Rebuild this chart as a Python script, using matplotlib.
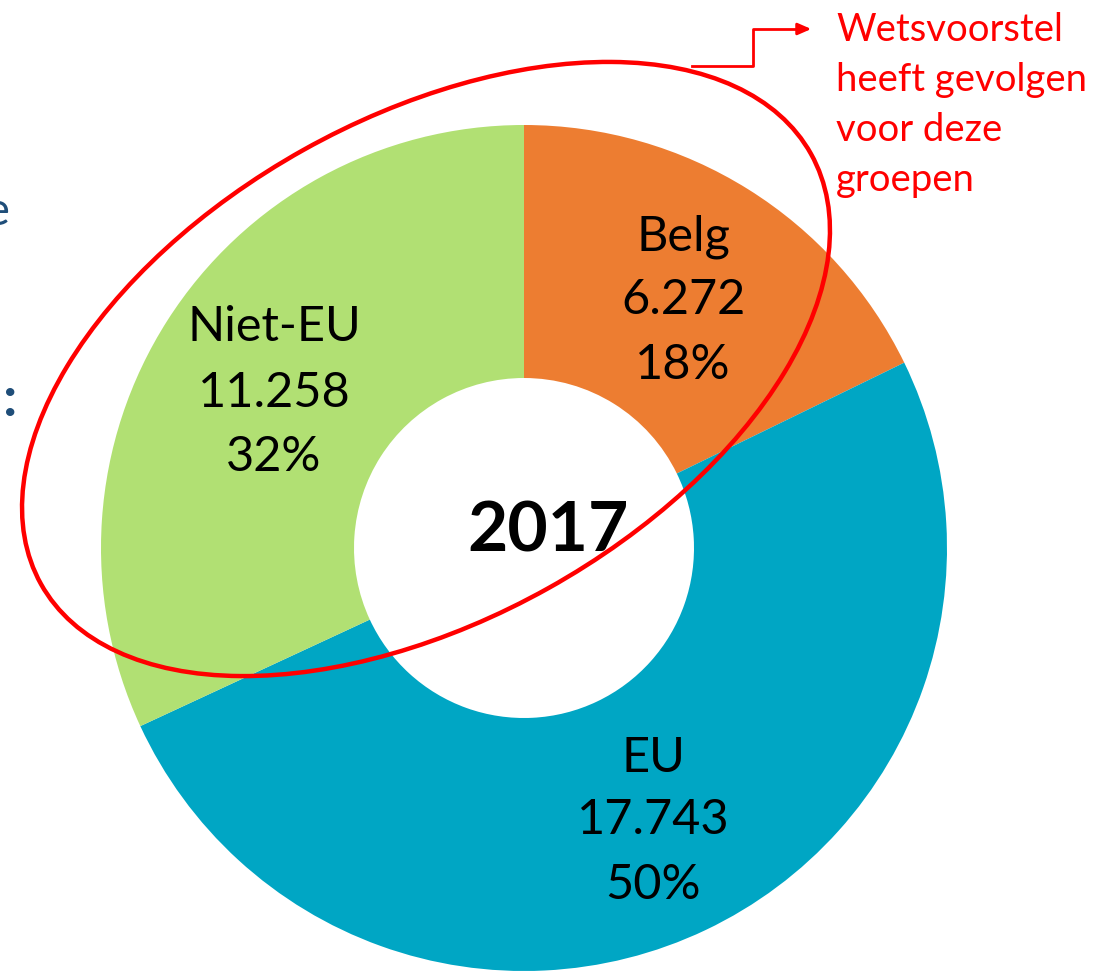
import matplotlib.pyplot as plt
from matplotlib.patches import Ellipse

plt.rcParams['font.family'] = ['Lato', 'DejaVu Sans']

# data
groups = ['Belg', 'EU', 'Niet-EU']
counts = [6272, 17743, 11258]
counts_txt = ['6.272', '17.743', '11.258']
pct_txt = ['18%', '50%', '32%']
colors = ['#ED7D31', '#00A6C4', '#B1E073']
note_lines = ['Wetsvoorstel', 'heeft gevolgen', 'voor deze', 'groepen']

W, H = 1096, 971
fig = plt.figure(figsize=(W / 100, H / 100), dpi=100)
ax = fig.add_axes([0, 0, 1, 1])

# donut (pixel coords, y up)
cx, cy, R, r_in = 524, H - 548, 423, 170
ax.pie(counts, colors=colors, startangle=90, counterclock=False,
       center=(cx, cy), radius=R,
       wedgeprops=dict(width=R - r_in, linewidth=0))

ax.set_xlim(0, W)
ax.set_ylim(0, H)
ax.set_aspect('auto')
ax.axis('off')

# labels inside the segments
label_pos = [(683, [237, 300, 365]), (653, [758, 820, 885]), (274, [327, 393, 457])]
for i, (x, ys) in enumerate(label_pos):
    for txt, y in zip([groups[i], counts_txt[i], pct_txt[i]], ys):
        ax.text(x, H - y, txt, ha='center', va='center', fontsize=35, color='black')

ax.text(548, H - 532, '2017', ha='center', va='center', fontsize=50,
        fontweight='bold', color='black')

# red ellipse around Belg + Niet-EU
ax.add_patch(Ellipse((426, H - 369), 882, 502, angle=29.2, fill=False,
                     edgecolor='#FF0000', linewidth=3.2, zorder=5))

# elbow arrow to the note
ax.plot([692, 753, 753, 800], [H - 66, H - 66, H - 29, H - 29],
        color='#FF0000', linewidth=2, zorder=5)
ax.annotate('', xy=(814, H - 29), xytext=(796, H - 29),
            arrowprops=dict(arrowstyle='-|>,head_length=0.8,head_width=0.35',
                            color='#FF0000', lw=2), zorder=5)

for i, line in enumerate(note_lines):
    ax.text(836, H - (30 + 50 * i), line, ha='left', va='center',
            fontsize=27.5, color='#FF0000')

# cut-off text fragments from the slide at the left edge
ax.text(10, H - 212, 'e', ha='right', va='center', fontsize=34, color='#1F4E79')
ax.text(17, H - 400, ':', ha='right', va='center', fontsize=40,
        fontweight='bold', color='#1F4E79')

fig.savefig('out.png', dpi=100)
